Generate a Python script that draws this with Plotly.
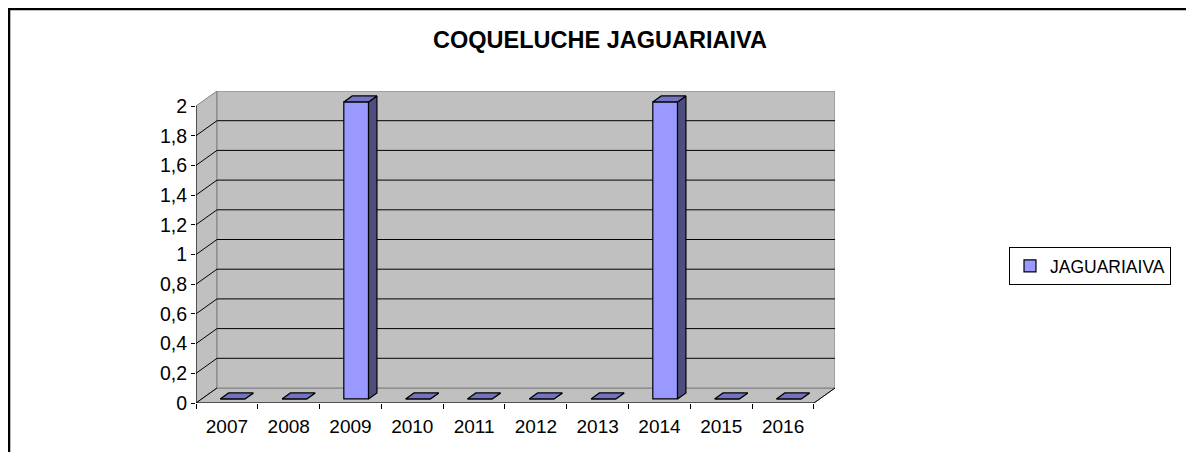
import plotly.graph_objects as go

# Data
anos = ["2007", "2008", "2009", "2010", "2011", "2012", "2013", "2014", "2015", "2016"]
casos = [0, 0, 2, 0, 0, 0, 0, 2, 0, 0]
serie = "JAGUARIAIVA"
titulo = "COQUELUCHE JAGUARIAIVA"
y_ticks = [0, 0.2, 0.4, 0.6, 0.8, 1, 1.2, 1.4, 1.6, 1.8, 2]

# Fake-3D geometry (in axis units)
N = len(anos)
YMAX = 2
DX, DY = 0.34, 0.101      # depth of the wall box
T0, T1 = 0.27, 0.67       # bar depth position (fraction of box depth)
W = 0.40                  # bar width

# page body has an 8px margin, so the figure is a bit smaller than the window
FIG_W, FIG_H = 1186, 444

FONT = "Arial, Liberation Sans, sans-serif"
WALL = "#C0C0C0"
EDGE = "#808080"
FRONT = "#9999FF"
SIDE = "#4D4D80"
TOP = "#7373BF"

shapes = []

def line(x0, y0, x1, y1, color="black", width=1):
    shapes.append(dict(type="line", xref="x", yref="y", x0=x0, y0=y0, x1=x1, y1=y1,
                       line=dict(color=color, width=width), layer="below"))

def poly(pts):
    path = "M " + " L ".join(f"{px},{py}" for px, py in pts) + " Z"
    shapes.append(dict(type="path", xref="x", yref="y", path=path, fillcolor=WALL,
                       line=dict(color=EDGE, width=1), layer="below"))

# walls and floor
poly([(0, 0), (DX, DY), (DX, YMAX + DY), (0, YMAX)])
poly([(0, 0), (N, 0), (N + DX, DY), (DX, DY)])
poly([(DX, DY), (N + DX, DY), (N + DX, YMAX + DY), (DX, YMAX + DY)])

# gridlines
for v in y_ticks:
    if v < YMAX:
        line(0, v, DX, v + DY)
    if 0 < v < YMAX:
        line(DX, v + DY, N + DX, v + DY)

# front edges
line(0, 0, 0, YMAX)
line(0, 0, N, 0)
line(N, 0, N + DX, DY)

# outer frame (only top and left edges are in view)
shapes.append(dict(type="rect", xref="paper", yref="paper", x0=-0.2926, y0=-0.5,
                   x1=1.6, y1=1.2628, line=dict(color="black", width=2.5)))

# bar faces
bdx, bdy = (T1 - T0) * DX, (T1 - T0) * DY
side_x, side_y, top_x, top_y = [], [], [], []
for i, v in enumerate(casos):
    xl = i + 0.5 - W / 2 + T0 * DX
    xr = xl + W
    b = T0 * DY
    side_x += [xr, xr + bdx, xr + bdx, xr, xr, None]
    side_y += [b, b + bdy, b + bdy + v, b + v, b, None]
    top_x += [xl, xr, xr + bdx, xl + bdx, xl, None]
    top_y += [b + v, b + v, b + v + bdy, b + v + bdy, b + v, None]

fig = go.Figure()
fig.add_trace(go.Scatter(x=side_x, y=side_y, mode="lines", fill="toself", fillcolor=SIDE,
                         line=dict(color="black", width=1.2), showlegend=False, hoverinfo="skip"))
fig.add_trace(go.Scatter(x=top_x, y=top_y, mode="lines", fill="toself", fillcolor=TOP,
                         line=dict(color="black", width=1.2), showlegend=False, hoverinfo="skip"))
fig.add_trace(go.Bar(
    x=[i + 0.5 + T0 * DX for i in range(N)], y=casos, base=T0 * DY, width=W,
    name=serie, marker=dict(color=FRONT, line=dict(color="black", width=1.2)),
    hovertext=anos,
))
# carrier for the tick axis
fig.add_trace(go.Scatter(x=[0, N], y=[0, 0], xaxis="x2", mode="lines",
                         line=dict(width=0), showlegend=False, hoverinfo="skip"))

fig.update_layout(
    width=FIG_W, height=FIG_H,
    margin=dict(l=188, r=359, t=83, b=49),
    paper_bgcolor="white", plot_bgcolor="white",
    separators=",.",
    font=dict(family=FONT, size=19, color="black"),
    title=dict(text=f"<b>{titulo}</b>", x=592 / FIG_W, xanchor="center", xref="container",
               y=(FIG_H - 32) / FIG_H, yanchor="middle", yref="container",
               font=dict(family=FONT, size=23.5, color="black")),
    xaxis=dict(range=[0, N + DX], tickvals=[i + 0.5 for i in range(N)], ticktext=anos,
               ticks="", showgrid=False, zeroline=False, showline=False,
               tickfont=dict(size=19), ticklabelstandoff=10),
    xaxis2=dict(range=[0, N + DX], overlaying="x", anchor="y", side="bottom",
                tickvals=list(range(N + 1)), ticks="outside", ticklen=5, tickcolor="black",
                showticklabels=False, showgrid=False, zeroline=False, showline=False),
    yaxis=dict(range=[0, YMAX + DY], tickvals=y_ticks, ticks="outside", ticklen=4,
               tickcolor="black", showgrid=False, zeroline=False, showline=False,
               tickfont=dict(size=19.5)),
    shapes=shapes,
    legend=dict(x=1.2723, y=0.439, xanchor="left", yanchor="middle",
                bordercolor="black", borderwidth=1, font=dict(size=17.5)),
    showlegend=True,
)

fig.write_html("out.html")
